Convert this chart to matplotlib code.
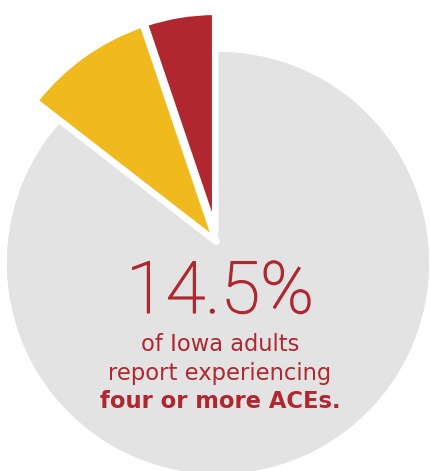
#!/usr/bin/env python3
"""Pie chart: share of Iowa adults reporting four or more ACEs."""

import matplotlib
matplotlib.use("Agg")
import matplotlib.pyplot as plt
import matplotlib.patheffects as pe
from matplotlib.patches import Circle

# data (percent of adults)
labels = ["4 ACEs", "5+ ACEs", "Fewer than 4 ACEs"]
shares = [5.2, 9.3, 85.5]
headline = "14.5%"
caption_lines = ["of Iowa adults", "report experiencing"]
caption_bold = "four or more ACEs."

RED = "#b0272f"
YELLOW = "#f0b91d"
GRAY = "#e3e3e3"
COLORS = [RED, YELLOW, GRAY]
# pulled-out slices: shift of the wedge tip (axes units) and wedge radius
SHIFT = [(-0.013, 0.147), (-0.007, 0.0995), (0.0, 0.0)]
RADII = [1.043, 1.09, 1.0]


def main() -> None:
    fig = plt.figure(figsize=(4.30, 4.71), dpi=100)
    ax = fig.add_axes([0, 0, 1, 1])
    ax.set_axis_off()

    # grey disc sits underneath the whole pie
    ax.add_patch(Circle((0, 0), 1.0, facecolor=GRAY, edgecolor="none", zorder=0))

    wedges, _ = ax.pie(shares, colors=COLORS, startangle=90, radius=1.0,
                       counterclock=True)
    for w, shift, r in zip(wedges, SHIFT, RADII):
        w.set_center(shift)
        w.set_radius(r)
        if w.get_facecolor()[:3] == matplotlib.colors.to_rgb(GRAY):
            w.set_edgecolor("none")
            w.set_zorder(1)
        else:
            w.set_edgecolor("white")
            w.set_linewidth(4.7)
            w.set_joinstyle("round")
            w.set_zorder(2)

    ax.set_aspect("equal")
    ax.set_xlim(-1.033, 1.005)
    ax.set_ylim(-0.986, 1.246)

    ax.text(0.0095, -0.237, headline, ha="center", va="baseline",
            fontsize=52, color=RED, family="Roboto", fontweight="light",
            path_effects=[pe.withStroke(linewidth=0.9, foreground=RED)])
    for y, line in zip([-0.417, -0.555], caption_lines):
        ax.text(0.0095, y, line, ha="center", va="baseline",
                fontsize=16.3, color=RED, family="DejaVu Sans")
    ax.text(0.0095, -0.687, caption_bold, ha="center", va="baseline",
            fontsize=16.3, color=RED, family="DejaVu Sans", fontweight="bold")

    fig.savefig("out.png", dpi=100)
    plt.close(fig)


if __name__ == "__main__":
    main()
